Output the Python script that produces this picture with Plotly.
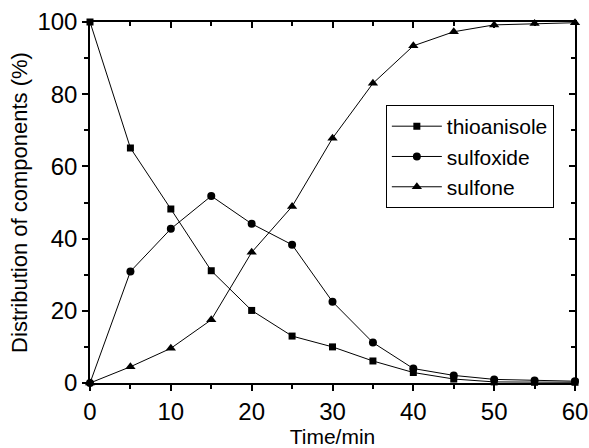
import plotly.graph_objects as go

time_min = [0, 5, 10, 15, 20, 25, 30, 35, 40, 45, 50, 55, 60]
thioanisole = [100, 65.1, 48.2, 31.1, 20.1, 13.0, 10.0, 6.1, 2.9, 1.1, 0.3, 0.2, 0.2]
sulfoxide = [0, 30.9, 42.7, 51.8, 44.1, 38.3, 22.5, 11.2, 4.0, 2.1, 1.0, 0.7, 0.5]
sulfone = [0, 4.5, 9.6, 17.5, 36.2, 48.9, 67.8, 83.0, 93.4, 97.3, 99.2, 99.6, 99.8]

FONT = "Liberation Sans, Arial, sans-serif"

fig = go.Figure()
series = [
    ("thioanisole", thioanisole, "square", 7),
    ("sulfoxide", sulfoxide, "circle", 8),
    ("sulfone", sulfone, "triangle-up", 9),
]
for name, vals, sym, sz in series:
    fig.add_trace(go.Scatter(
        x=time_min, y=vals, mode="lines+markers", name=name,
        line=dict(color="black", width=1),
        marker=dict(symbol=sym, size=sz, color="black"),
        cliponaxis=False))

# invisible trace so the mirrored (top/right) axes get drawn
fig.add_trace(go.Scatter(x=[None], y=[None], xaxis="x2", yaxis="y2",
                         showlegend=False, hoverinfo="skip"))

ax_common = dict(showline=True, linecolor="black", linewidth=1.5, automargin=False,
                 showgrid=False, zeroline=False, tickcolor="black")

fig.update_layout(
    width=589, height=448,
    paper_bgcolor="white", plot_bgcolor="white",
    font=dict(family=FONT, size=21, color="black"),
    margin=dict(l=90, r=14, t=22, b=65),
    xaxis=dict(range=[0, 60], dtick=10, ticks="outside", ticklen=6, tickwidth=1.5,
               tickfont=dict(size=24),
               title=dict(text="Time/min", font=dict(size=21), standoff=12),
               minor=dict(dtick=5, ticks="outside", ticklen=4, tickcolor="black"),
               **ax_common),
    yaxis=dict(range=[0, 100], dtick=20, ticks="outside", ticklen=6, tickwidth=1.5,
               tickfont=dict(size=24),
               title=dict(text="Distribution of components (%)", font=dict(size=22), standoff=4),
               minor=dict(dtick=10, ticks="outside", ticklen=4, tickcolor="black"),
               **ax_common),
    xaxis2=dict(range=[0, 60], dtick=10, overlaying="x", side="top", anchor="y2",
                ticks="inside", ticklen=6, tickwidth=1.5, showticklabels=False,
                minor=dict(dtick=5, ticks="inside", ticklen=4, tickcolor="black"),
                **ax_common),
    yaxis2=dict(range=[0, 100], dtick=20, overlaying="y", side="right", anchor="x2",
                ticks="inside", ticklen=6, tickwidth=1.5, showticklabels=False,
                minor=dict(dtick=10, ticks="inside", ticklen=4, tickcolor="black"),
                **ax_common),
    legend=dict(x=0.61, y=0.77, xanchor="left", yanchor="top",
                bordercolor="black", borderwidth=1, bgcolor="white",
                font=dict(size=21), tracegroupgap=0, itemwidth=50),
    showlegend=True,
)

# drop the default 8px body margin so the figure sits at the page corner
fig.write_html("out.html", config={"displayModeBar": False},
               post_script="document.body.style.margin='0';")
